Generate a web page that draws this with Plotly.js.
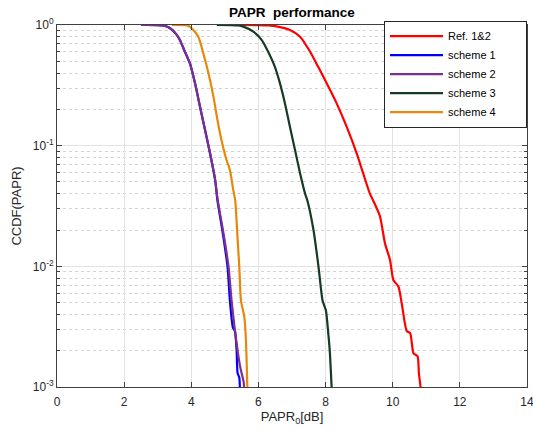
<!DOCTYPE html>
<html>
<head>
<meta charset="utf-8">
<script src="https://cdn.plot.ly/plotly-3.0.1.min.js"></script>
<style>html,body{margin:0;padding:0;background:#fff;}#chart{width:533px;height:430px;}</style>
</head>
<body>
<div id="chart"></div>
<script>
// Ref. 1&2
const refX = [5.5, 6.0, 6.3, 6.54, 6.94, 7.24, 7.54, 7.78, 8.03, 8.33, 8.63, 8.93, 9.12, 9.32, 9.42, 9.62, 9.77, 9.92, 10.02, 10.17, 10.27, 10.42, 10.52, 10.62, 10.74, 10.78, 10.83, 10.85];
const refY = [1.0, 0.998, 0.992, 0.975, 0.91, 0.80, 0.60, 0.45, 0.33, 0.224, 0.143, 0.086, 0.059, 0.040, 0.035, 0.026, 0.0155, 0.0113, 0.0077, 0.0068, 0.0049, 0.0029, 0.0028, 0.0019, 0.0018, 0.0013, 0.001, 0.0009];
// scheme 1
const s1X = [2.5, 3.0, 3.2, 3.37, 3.55, 3.66, 3.81, 3.96, 4.11, 4.26, 4.41, 4.56, 4.71, 4.78, 4.94, 5.08, 5.15, 5.24, 5.30, 5.35, 5.38, 5.43, 5.45];
const s1Y = [1.0, 0.998, 0.985, 0.94, 0.84, 0.75, 0.60, 0.48, 0.33, 0.21, 0.135, 0.086, 0.052, 0.035, 0.0187, 0.0099, 0.0052, 0.0031, 0.0029, 0.002, 0.0013, 0.0012, 0.0009];
// scheme 2
const s2X = [2.5, 3.0, 3.2, 3.37, 3.55, 3.66, 3.81, 3.96, 4.11, 4.26, 4.41, 4.56, 4.71, 4.79, 4.96, 5.11, 5.20, 5.29, 5.38, 5.45, 5.50, 5.56, 5.58];
const s2Y = [1.0, 0.998, 0.985, 0.94, 0.84, 0.75, 0.60, 0.48, 0.33, 0.21, 0.135, 0.086, 0.052, 0.035, 0.0187, 0.0099, 0.0052, 0.0031, 0.002, 0.0015, 0.0013, 0.0011, 0.0009];
// scheme 3
const s3X = [4.76, 5.2, 5.4, 5.55, 5.85, 6.10, 6.29, 6.49, 6.64, 6.79, 6.94, 7.09, 7.24, 7.39, 7.46, 7.64, 7.79, 7.91, 8.01, 8.08, 8.13, 8.18, 8.19];
const s3Y = [1.0, 0.997, 0.99, 0.97, 0.88, 0.75, 0.60, 0.45, 0.33, 0.224, 0.143, 0.092, 0.059, 0.040, 0.035, 0.020, 0.0099, 0.0052, 0.0043, 0.0028, 0.0019, 0.001, 0.0009];
// scheme 4
const s4X = [3.42, 3.8, 3.92, 4.01, 4.21, 4.36, 4.51, 4.66, 4.78, 4.90, 5.05, 5.15, 5.25, 5.31, 5.37, 5.43, 5.48, 5.58, 5.63, 5.67, 5.68];
const s4Y = [1.0, 0.995, 0.98, 0.94, 0.80, 0.58, 0.40, 0.255, 0.163, 0.111, 0.076, 0.063, 0.043, 0.035, 0.0187, 0.0099, 0.0052, 0.0038, 0.0024, 0.001, 0.0009];

const names = ['Ref. 1&2', 'scheme 1', 'scheme 2', 'scheme 3', 'scheme 4'];
const colors = ['#ff0000', '#0000ff', '#7e2f8e', '#153a26', '#e8870c'];
const xs = [refX, s1X, s2X, s3X, s4X];
const ys = [refY, s1Y, s2Y, s3Y, s4Y];

// trailing non-breaking spaces give the legend box MATLAB-like right padding
const pad = '\u00a0\u00a0\u00a0\u00a0\u00a0\u00a0\u00a0\u00a0';
const traces = names.map((n, i) => ({
  x: xs[i], y: ys[i], name: n + pad, type: 'scatter', mode: 'lines',
  line: {color: colors[i], width: 2.2, shape: 'spline', smoothing: 0.6}
}));

const xTicks = [0, 2, 4, 6, 8, 10, 12, 14];
const yTickVals = [0.001, 0.01, 0.1, 1];
const yTickText = ['10<sup>-3</sup>', '10<sup>-2</sup>', '10<sup>-1</sup>', '10<sup>0</sup>'];

const axisCommon = {
  showline: true, linecolor: '#404040', linewidth: 1, mirror: 'ticks',
  ticks: 'inside', ticklen: 5, tickcolor: '#404040',
  showgrid: true, gridcolor: '#e3e3e3', gridwidth: 1, zeroline: false,
  ticklabeloverflow: 'allow',
  tickfont: {family: 'Liberation Sans, Arial, sans-serif', size: 12, color: '#262626'}
};

const layout = {
  width: 533, height: 430,
  margin: {l: 57, r: 6, t: 25, b: 43},
  paper_bgcolor: '#fff', plot_bgcolor: '#fff',
  font: {family: 'Liberation Sans, Arial, sans-serif', color: '#262626'},
  title: {text: '<b>PAPR\u00a0 performance</b>', font: {size: 13.5, color: '#000'}, xref: 'paper', x: 0.5, xanchor: 'center', yref: 'container', y: 0.982, yanchor: 'top'},
  xaxis: Object.assign({}, axisCommon, {
    range: [0, 14.0001], tickvals: xTicks, ticktext: xTicks.map(String),
    ticklabelstandoff: 4,
    title: {text: 'PAPR<sub>0</sub>[dB]', font: {size: 13, color: '#262626'}, standoff: 1}
  }),
  yaxis: Object.assign({}, axisCommon, {
    type: 'log', range: [-3, 0], tickvals: yTickVals, ticktext: yTickText,
    title: {text: 'CCDF(PAPR)', font: {size: 13, color: '#262626'}, standoff: 8},
    minor: {dtick: 'D1', showgrid: true, griddash: 'dot', gridcolor: '#d4d4d4', gridwidth: 1, ticks: 'inside', ticklen: 3, tickcolor: '#404040'}
  }),
  showlegend: true,
  legend: {
    x: 1, xanchor: 'right', y: 1.012, yanchor: 'top',
    bgcolor: '#fff', bordercolor: '#262626', borderwidth: 1,
    font: {size: 11, color: '#000'}, tracegroupgap: 0, itemwidth: 53
  }
};

Plotly.newPlot('chart', traces, layout, {staticPlot: true, displayModeBar: false});
</script>
</body>
</html>
